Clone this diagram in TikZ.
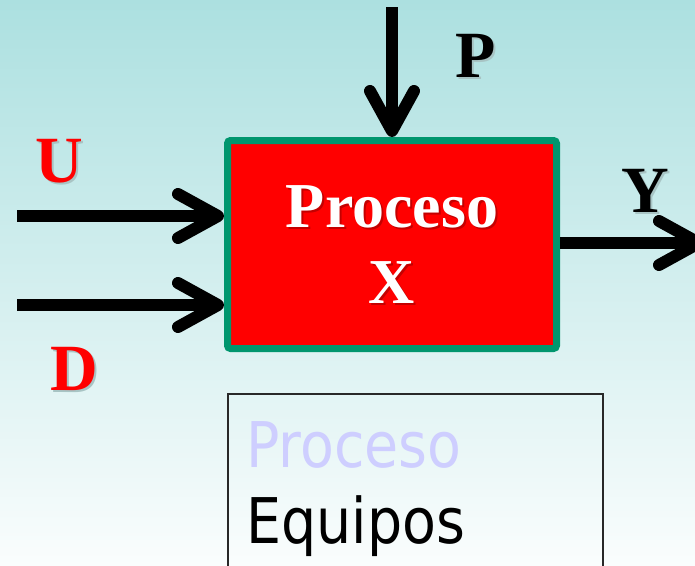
\documentclass[tikz,border=0pt]{standalone}
\usepackage{fontspec}
\setmainfont{Liberation Serif}
\newfontfamily\panelfont{DejaVu Sans}
\usetikzlibrary{arrows.meta}

\definecolor{procred}{RGB}{255,0,0}
\definecolor{procgreen}{RGB}{0,150,110}
\definecolor{bgtop}{RGB}{172,224,224}
\definecolor{bgbottom}{RGB}{250,253,253}
\definecolor{lavender}{RGB}{206,206,255}
\definecolor{panelline}{RGB}{40,40,40}
\definecolor{shadeonbg}{RGB}{168,196,196}
\definecolor{shadeonred}{RGB}{196,0,0}

% text with a soft drop shade set 2pt right and 2pt down
\newcommand{\shadedtext}[2]{%
  \rlap{\hspace{2pt}\raisebox{-2pt}{\textcolor{#1}{#2}}}#2}

\tikzset{
  flow/.style={line width=12pt, -{Straight Barb[length=40pt,width=44pt,round]}},
  varlabel/.style={font=\fontsize{66}{70}\selectfont\bfseries, inner sep=0pt, anchor=base},
  paneltext/.style={font=\fontsize{63}{70}\selectfont\panelfont, inner sep=0pt, anchor=base west},
}

\begin{document}
\begin{tikzpicture}[x=1pt,y=-1pt]
  % background
  \shade[top color=bgtop, bottom color=bgbottom] (0,0) rectangle (695,565);
  \useasboundingbox (0,0) rectangle (695,565);
  \clip (0,0) rectangle (695,565);

  % process block
  \node[draw=procgreen, fill=procred, line width=7pt, rounded corners=3pt,
        minimum width=329pt, minimum height=208pt, inner sep=0pt] (proc) at (392,244.5) {};
  \node[text=white, font=\fontsize{64}{76}\selectfont\bfseries, align=center, inner sep=0pt]
        (proctext) at (392,246) {\shadedtext{shadeonred}{Proceso}\\\shadedtext{shadeonred}{X}};

  % signal labels
  \node[varlabel, text=procred] (ulabel) at (59,182) {\shadedtext{shadeonbg}{U}};
  \node[varlabel, text=procred] (dlabel) at (74,390) {\shadedtext{shadeonbg}{D}};
  \node[varlabel, text=black] (plabel) at (476,77) {\shadedtext{shadeonbg}{P}};
  \node[varlabel, text=black] (ylabel) at (645,212) {\shadedtext{shadeonbg}{Y}};

  % signal arrows
  \coordinate (uin) at (17,216);
  \coordinate (din) at (17,305);
  \coordinate (pin) at (392,7);
  \coordinate (yout) at (705,243);
  \draw[flow] (uin) -- (uin -| proc.west);
  \draw[flow] (din) -- (din -| proc.west);
  \draw[flow] (pin) -- (proc.north);
  \draw[flow] (proc.east |- yout) -- (yout);

  % lower panel
  \node[draw=panelline, line width=1.5pt, minimum width=375pt, minimum height=200pt,
        inner sep=0pt, anchor=north west] (panel) at (227,393) {};
  \node[paneltext, text=lavender] (ptitle) at (246,467) {\scalebox{0.88}[1]{Proceso}};
  \node[paneltext, text=black] (pequip) at (246,543) {\scalebox{0.88}[1]{Equipos}};
\end{tikzpicture}
\end{document}
